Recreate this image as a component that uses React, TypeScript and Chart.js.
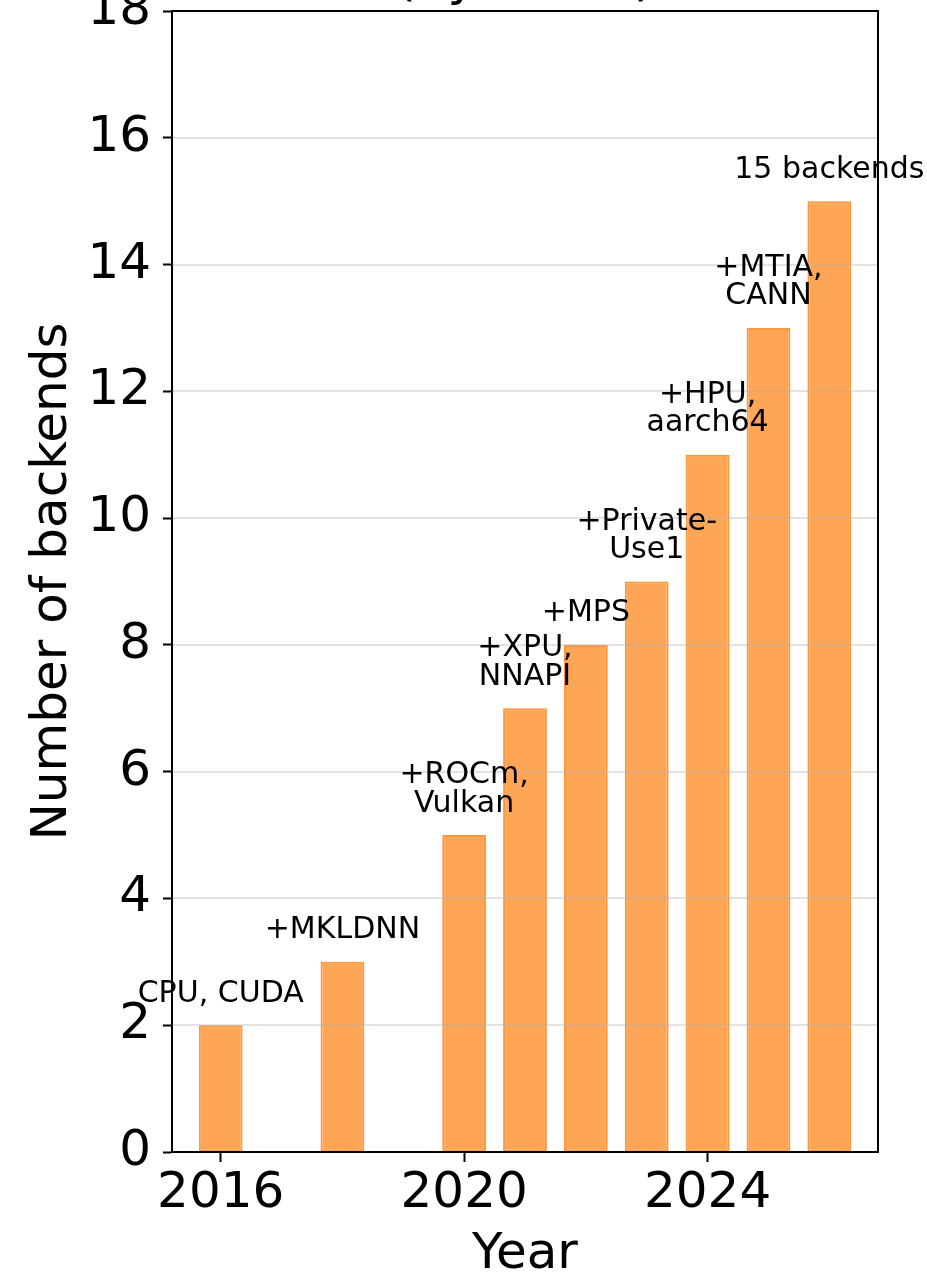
import React, { useEffect, useRef } from "react";
import { Chart, registerables } from "chart.js";

Chart.register(...registerables);

// ---- Data ----
const years = [2016, 2018, 2020, 2021, 2022, 2023, 2024, 2025, 2026];
const backendCounts = [2, 3, 5, 7, 8, 9, 11, 13, 15];
const barNotes = [
  ["CPU, CUDA"],
  ["+MKLDNN"],
  ["+ROCm,", "Vulkan"],
  ["+XPU,", "NNAPI"],
  ["+MPS"],
  ["+Private-", "Use1"],
  ["+HPU,", "aarch64"],
  ["+MTIA,", "CANN"],
  ["15 backends"],
];
const xTickYears = [2016, 2020, 2024];
const titleText = "(by count)";
const xLabel = "Year";
const yLabel = "Number of backends";

const FAMILY = "'DejaVu Sans', sans-serif";

const overlayPlugin = {
  id: "overlay",
  afterDatasetsDraw(chart: any) {
    const { ctx, chartArea: a, scales } = chart;
    const ys = scales.y;
    ctx.save();
    ctx.strokeStyle = "rgba(176,176,176,0.35)";
    ctx.lineWidth = 2;
    ys.ticks.forEach((t: any) => {
      if (t.value <= ys.min || t.value >= ys.max) return;
      const py = Math.round(ys.getPixelForValue(t.value));
      ctx.beginPath();
      ctx.moveTo(a.left, py);
      ctx.lineTo(a.right, py);
      ctx.stroke();
    });
    ctx.strokeStyle = "#000";
    ctx.lineWidth = 2;
    ctx.strokeRect(a.left, a.top, a.right - a.left, a.bottom - a.top);
    ctx.restore();
  },
  afterDraw(chart: any) {
    const { ctx, chartArea: a } = chart;
    const meta = chart.getDatasetMeta(0);
    ctx.save();
    ctx.fillStyle = "#000";
    ctx.textAlign = "center";
    ctx.textBaseline = "alphabetic";
    ctx.font = `30px ${FAMILY}`;
    meta.data.forEach((bar: any, i: number) => {
      const lines = barNotes[i];
      const base = bar.y - 23.5;
      lines.forEach((ln, j) => {
        ctx.fillText(ln, bar.x, base - (lines.length - 1 - j) * 28.5);
      });
    });
    ctx.font = `50px ${FAMILY}`;
    ctx.fillText(titleText, (a.left + a.right) / 2, -5);
    ctx.restore();
  },
};

export default function App() {
  const ref = useRef<HTMLCanvasElement | null>(null);

  useEffect(() => {
    if (!ref.current) return;
    const chart = new Chart(ref.current, {
      type: "bar",
      data: {
        datasets: [
          {
            data: years.map((y, i) => ({ x: y, y: backendCounts[i] })),
            backgroundColor: "#ffa556",
            borderColor: "#ff9638",
            borderWidth: 2,
            borderSkipped: false,
            barPercentage: 0.72,
            categoryPercentage: 1,
          },
        ],
      },
      options: {
        responsive: false,
        animation: false,
        layout: { padding: { left: 0, right: 49, top: 11, bottom: 0 } },
        plugins: {
          legend: { display: false },
          tooltip: { enabled: false },
          title: { display: false },
        },
        scales: {
          x: {
            type: "linear",
            min: 2015.2,
            max: 2026.8,
            offset: false,
            afterBuildTicks: (s: any) => {
              s.ticks = xTickYears.map((v) => ({ value: v }));
            },
            afterFit: (s: any) => {
              s.height = 125;
              s.paddingLeft = 0;
              s.paddingRight = 0;
            },
            grid: {
              display: true,
              drawOnChartArea: false,
              drawTicks: true,
              tickLength: 10,
              tickColor: "#000",
              tickWidth: 2,
              offset: false,
            },
            border: { display: true, color: "#000", width: 2 },
            ticks: {
              font: { family: FAMILY, size: 50 },
              color: "#000",
              padding: 2,
              maxRotation: 0,
              autoSkip: false,
              callback: (v: any) => String(v),
            },
            title: {
              display: true,
              text: xLabel,
              font: { family: FAMILY, size: 50 },
              color: "#000",
              padding: { top: 0, bottom: -8 },
            },
          },
          y: {
            type: "linear",
            min: 0,
            max: 18,
            afterFit: (s: any) => {
              s.width = 172;
              s.paddingTop = 0;
              s.paddingBottom = 0;
            },
            grid: {
              display: true,
              drawOnChartArea: false,
              drawTicks: true,
              tickLength: 9,
              tickColor: "#000",
              tickWidth: 2,
            },
            border: { display: true, color: "#000", width: 2 },
            ticks: {
              stepSize: 2,
              font: { family: FAMILY, size: 50 },
              color: "#000",
              padding: 12,
              autoSkip: false,
            },
            title: {
              display: true,
              text: yLabel,
              font: { family: FAMILY, size: 50 },
              color: "#000",
              padding: { top: 23, bottom: 0 },
            },
          },
        },
      } as any,
      plugins: [overlayPlugin],
    });
    return () => chart.destroy();
  }, []);

  return (
    <div style={{ position: "absolute", left: 0, top: 0, width: 927, height: 1277, background: "#fff" }}>
      <canvas ref={ref} width={927} height={1277} style={{ display: "block" }} />
    </div>
  );
}
